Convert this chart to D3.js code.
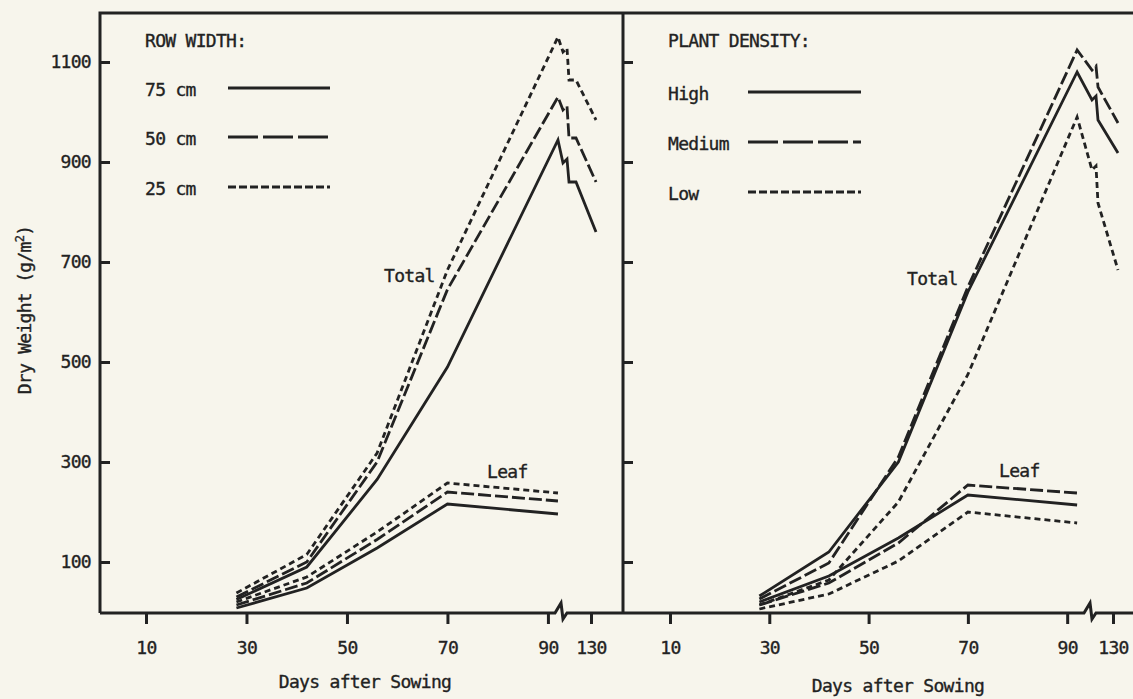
<!DOCTYPE html>
<html>
<head>
<meta charset="utf-8">
<script src="https://cdn.jsdelivr.net/npm/d3@7"></script>
<style>
  body { margin: 0; background: #f7f5ec; }
  svg { display: block; }
  text {
    font-family: "DejaVu Sans Mono", monospace;
    font-size: 18px;
    letter-spacing: -0.7px;
    fill: #222;
    stroke: #222;
    stroke-width: 0.35px;
  }
</style>
</head>
<body>
<div id="canvas"></div>
<script>
// sampling days, axis ticks
const sampleDays = [28, 42, 56, 70, 92];
const tailDays = [127, 131]; // days drawn after the axis break
const xTicks = [10, 30, 50, 70, 90, 130];
const yTicks = [100, 300, 500, 700, 900, 1100];

// left panel: row width (g/m2)
const rowLabels = ["75 cm", "50 cm", "25 cm"];
const rowTotal75 = [25, 90, 265, 490, 944];
const rowTotal50 = [30, 100, 300, 645, 1030];
const rowTotal25 = [38, 115, 318, 684, 1150];
// [value at the cut, value after the break, harvest value]
const rowTail75 = [898, 860, 760];
const rowTail50 = [1004, 948, 860];
const rowTail25 = [1120, 1064, 984];
const rowLeaf75 = [8, 48, 128, 216, 196];
const rowLeaf50 = [14, 58, 145, 240, 222];
const rowLeaf25 = [20, 70, 160, 258, 238];

// right panel: plant density (g/m2)
const densityLabels = ["High", "Medium", "Low"];
const denTotalHigh = [32, 120, 300, 640, 1080];
const denTotalMed = [26, 98, 310, 650, 1124];
const denTotalLow = [14, 64, 220, 475, 990];
const denTailHigh = [1024, 984, 918];
const denTailMed = [1084, 1050, 978];
const denTailLow = [884, 818, 684];
const denLeafHigh = [20, 72, 148, 234, 214];
const denLeafMed = [14, 58, 138, 254, 238];
const denLeafLow = [6, 36, 102, 200, 178];

const ink = "#222";
const lineDash = [null, "13,4", "6,4"];
const legendDash = [null, "30,5", "8,3"];

const width = 1133;
const height = 699;
const frameTop = 13;
const axisY = 613;
const leftX = 100;
const midX = 623;

const svg = d3.select("#canvas").append("svg")
  .attr("width", width)
  .attr("height", height);

const y = d3.scaleLinear().domain([0, 1200]).range([612, 12]);

// the break squeezes days 93..127 (left) / 95..127 (right) into a few pixels
const panels = [
  {
    x: d3.scaleLinear().domain([10, 93, 127, 135]).range([146, 563, 576, 616]),
    cutDay: 93,
    x0: leftX, x1: midX,
    title: "ROW WIDTH:", titleX: 145,
    labels: rowLabels,
    legendY: [88, 137, 187], legendX: [228, 330],
    totals: [rowTotal75, rowTotal50, rowTotal25],
    tails: [rowTail75, rowTail50, rowTail25],
    leaves: [rowLeaf75, rowLeaf50, rowLeaf25],
    totalPos: [384, 282], leafPos: [487, 478],
    xTitle: [365, 688],
    labelsY: true
  },
  {
    x: d3.scaleLinear().domain([10, 95, 127, 135]).range([670, 1092, 1098, 1138]),
    cutDay: 95,
    x0: midX, x1: width,
    title: "PLANT DENSITY:", titleX: 668,
    labels: densityLabels,
    legendY: [92, 142, 192], legendX: [748, 861],
    totals: [denTotalHigh, denTotalMed, denTotalLow],
    tails: [denTailHigh, denTailMed, denTailLow],
    leaves: [denLeafHigh, denLeafMed, denLeafLow],
    totalPos: [907, 285], leafPos: [999, 477],
    xTitle: [898, 692],
    labelsY: false
  }
];

const line = d3.line();

panels.forEach((p) => {
  const g = svg.append("g");
  const x = p.x;

  // y axis ticks (inward)
  const yAxis = d3.axisLeft(y)
    .tickValues(yTicks)
    .tickFormat(p.labelsY ? d3.format("d") : "")
    .tickSizeInner(-10)
    .tickSizeOuter(0)
    .tickPadding(9);
  const ya = g.append("g")
    .attr("transform", `translate(${p.x0},0)`)
    .call(yAxis);
  ya.select(".domain").remove();
  ya.selectAll("line").attr("stroke", ink).attr("stroke-width", 3);
  ya.selectAll("text").attr("font-size", null).attr("font-family", null).attr("fill", null);

  // x axis ticks (downward)
  const xa = g.append("g")
    .attr("transform", `translate(0,${axisY})`)
    .call(d3.axisBottom(x).tickValues(xTicks).tickSize(11).tickSizeOuter(0).tickPadding(17));
  xa.select(".domain").remove();
  xa.selectAll("line").attr("stroke", ink).attr("stroke-width", 3);
  xa.selectAll("text").attr("font-size", null).attr("font-family", null).attr("fill", null);
  ya.attr("font-size", null).attr("font-family", null);
  xa.attr("font-size", null).attr("font-family", null);

  // axis line with break mark
  const bx = x(p.cutDay) - 2;
  g.append("path")
    .attr("d", `M${p.x0},${axisY}H${bx - 6}L${bx},${axisY - 10}L${bx + 2},${axisY + 6}L${bx + 6},${axisY}H${p.x1}`)
    .attr("fill", "none").attr("stroke", ink).attr("stroke-width", 3);

  // series
  const drawSeries = (values, tail, dash) => {
    const pts = sampleDays.map((d, i) => [x(d), y(values[i])]);
    if (tail) {
      const a = [x(p.cutDay), y(tail[0])];
      const b = [x(tailDays[0]), y(tail[1])];
      pts.push(a, [a[0] + 4, a[1] - 4], [a[0] + 6, b[1]], b, [x(tailDays[1]), y(tail[2])]);
    }
    g.append("path")
      .attr("d", line(pts))
      .attr("fill", "none")
      .attr("stroke", ink)
      .attr("stroke-width", 2.8)
      .attr("stroke-linejoin", "miter")
      .attr("stroke-dasharray", dash);
  };
  p.totals.forEach((v, i) => drawSeries(v, p.tails[i], lineDash[i]));
  p.leaves.forEach((v, i) => drawSeries(v, null, lineDash[i]));

  // legend
  g.append("text").attr("x", p.titleX).attr("y", 47).text(p.title);
  p.labels.forEach((lab, i) => {
    g.append("text").attr("x", p.titleX).attr("y", p.legendY[i] + 8).text(lab);
    g.append("line")
      .attr("x1", p.legendX[0]).attr("x2", p.legendX[1])
      .attr("y1", p.legendY[i]).attr("y2", p.legendY[i])
      .attr("stroke", ink).attr("stroke-width", 2.8)
      .attr("stroke-dasharray", legendDash[i]);
  });

  g.append("text").attr("x", p.totalPos[0]).attr("y", p.totalPos[1]).text("Total");
  g.append("text").attr("x", p.leafPos[0]).attr("y", p.leafPos[1]).text("Leaf");
  g.append("text")
    .attr("x", p.xTitle[0]).attr("y", p.xTitle[1])
    .attr("text-anchor", "middle")
    .text("Days after Sowing");
});

// frame: y axis, top border, panel divider
svg.append("path")
  .attr("d", `M${leftX},${axisY}V${frameTop}H${width}M${midX},${frameTop}V${axisY}`)
  .attr("fill", "none").attr("stroke", ink).attr("stroke-width", 3);

// y axis title
const yt = svg.append("text")
  .attr("transform", "translate(31,310) rotate(-90)")
  .attr("text-anchor", "middle");
yt.append("tspan").text("Dry Weight (g/m");
yt.append("tspan").attr("dy", -7).attr("font-size", 12).text("2");
yt.append("tspan").attr("dy", 7).text(")");
</script>
</body>
</html>
